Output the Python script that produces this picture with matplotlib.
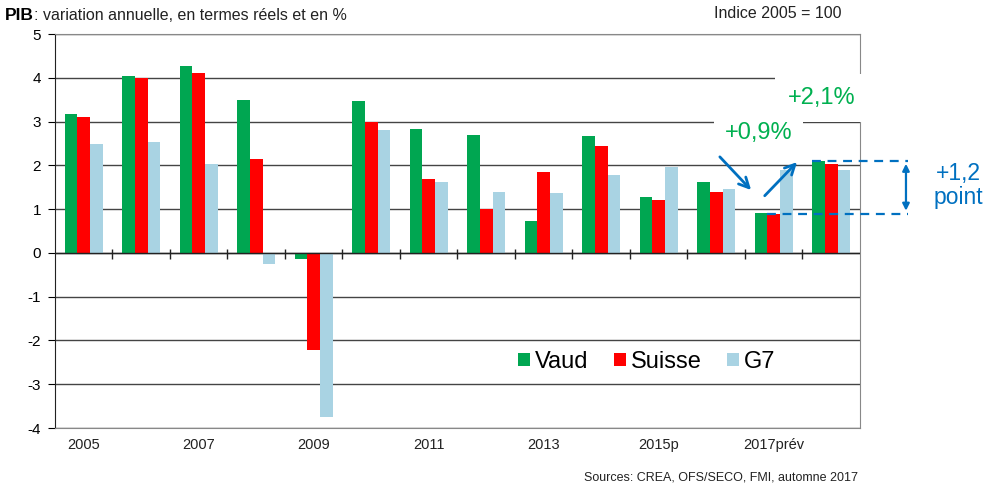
import numpy as np
import matplotlib
matplotlib.use("Agg")
import matplotlib.pyplot as plt

plt.rcParams["font.family"] = ["Liberation Sans", "DejaVu Sans"]
plt.rcParams["axes.unicode_minus"] = False

# Données (PIB, variation annuelle en %)
annees = ["2005", "2006", "2007", "2008", "2009", "2010", "2011",
          "2012", "2013", "2014", "2015p", "2016", "2017prév", "2018"]
vaud = [3.17, 4.03, 4.28, 3.49, -0.14, 3.46, 2.83, 2.70, 0.73, 2.68, 1.28, 1.62, 0.92, 2.10]
suisse = [3.11, 3.99, 4.11, 2.15, -2.21, 3.00, 1.69, 1.00, 1.85, 2.45, 1.22, 1.38, 0.90, 2.02]
g7 = [2.49, 2.53, 2.02, -0.26, -3.75, 2.80, 1.62, 1.38, 1.37, 1.78, 1.96, 1.47, 1.89, 1.89]

VERT = "#00A651"
ROUGE = "#FF0000"
BLEU_CLAIR = "#A9D3E3"
BLEU = "#0070C0"
VERT_TXT = "#00B050"

x = np.arange(len(annees))
w = 0.22

fig = plt.figure(figsize=(9.87, 4.86), dpi=100)
ax = fig.add_axes([0.0557, 0.1193, 0.8156, 0.8107])

ax.bar(x - w, vaud, w, color=VERT, label="Vaud", zorder=3)
ax.bar(x, suisse, w, color=ROUGE, label="Suisse", zorder=3)
ax.bar(x + w, g7, w, color=BLEU_CLAIR, label="G7", zorder=3)

ax.set_xlim(-0.5, len(annees) - 0.5)
ax.set_ylim(-4, 5)
ax.set_yticks(range(-4, 6))
ax.yaxis.grid(True, color="#444444", linewidth=1, zorder=1)
ax.tick_params(axis="y", length=5, labelsize=11, pad=5)

# étiquettes une année sur deux, sans traits
ax.set_xticks(x[::2])
ax.set_xticklabels(annees[::2], fontsize=10.5, color="#222222")
ax.tick_params(axis="x", length=0, pad=7)

# ligne du zéro avec séparateurs entre les groupes
ax.axhline(0, color="#222222", linewidth=1, zorder=4)
bornes = np.arange(0.5, len(annees) - 0.5, 1)
ax.plot(bornes, np.full(len(bornes), -0.02), "|", color="#222222", ms=7, mew=1, zorder=4)

for s in ["top", "right", "bottom"]:
    ax.spines[s].set_color("#888888")
ax.spines["left"].set_color("#222222")

ax.legend(loc="center", bbox_to_anchor=(0.735, 0.168), ncol=3, frameon=False,
          fontsize=17, handlelength=0.5, handleheight=0.5, handletextpad=0.2,
          columnspacing=1.1)

# annotations : +0,9% -> +2,1%
ax.annotate("", xy=(11.64, 1.39), xytext=(11.03, 2.24),
            arrowprops=dict(arrowstyle="->", color=BLEU, lw=2, mutation_scale=18), zorder=5)
ax.annotate("", xy=(12.44, 2.12), xytext=(11.81, 1.26),
            arrowprops=dict(arrowstyle="->", color=BLEU, lw=2, mutation_scale=18), zorder=5)
ax.text(11.73, 2.74, "+0,9%", color=VERT_TXT, fontsize=17, ha="center", va="center",
        bbox=dict(boxstyle="square,pad=0.45", fc="white", ec="none"), zorder=5)
ax.text(12.84, 3.54, "+2,1%", color=VERT_TXT, fontsize=17, ha="center", va="center",
        bbox=dict(boxstyle="square,pad=0.55", fc="white", ec="none"), zorder=5)

# écart +1,2 point
ax.plot([11.89, 14.33], [suisse[12], suisse[12]], ls=(0, (4, 3)), color=BLEU, lw=1.6,
        clip_on=False, zorder=5)
ax.plot([12.67, 14.33], [vaud[13], vaud[13]], ls=(0, (4, 3)), color=BLEU, lw=1.6,
        clip_on=False, zorder=5)
ax.annotate("", xy=(14.3, vaud[13]), xytext=(14.3, suisse[12]), annotation_clip=False,
            arrowprops=dict(arrowstyle="<|-|>", color=BLEU, lw=1.6, mutation_scale=10))
ax.text(15.21, 1.55, "+1,2\npoint", color=BLEU, fontsize=16.5, ha="center", va="center",
        linespacing=1.05, clip_on=False)

# titres et source
t = fig.text(5 / 987, 1 - 15 / 486, "PIB", fontsize=12.5, fontweight="bold", va="center")
ax.annotate(": variation annuelle, en termes réels et en %", xy=(1, 0.5), xycoords=t,
            va="center", fontsize=11.5, color="#222222")
fig.text(778 / 987, 1 - 13 / 486, "Indice 2005 = 100", fontsize=11.5, ha="center",
         va="center", color="#222222")
fig.text(858 / 987, 1 - 477 / 486, "Sources: CREA, OFS/SECO, FMI, automne 2017",
         fontsize=9, ha="right", va="center", color="#222222")

fig.savefig("out.png", dpi=100)
